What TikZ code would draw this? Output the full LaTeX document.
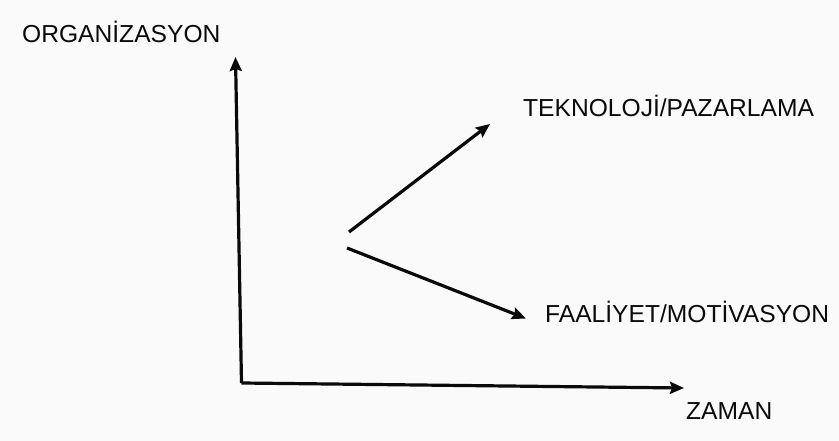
\documentclass[tikz,border=0pt]{standalone}
\usepackage{fontspec}
\setmainfont{Liberation Sans}
\usetikzlibrary{positioning,arrows.meta,calc}
\definecolor{bgpaper}{RGB}{250,250,250}
\definecolor{inkk}{RGB}{10,10,10}

\begin{document}
\begin{tikzpicture}[
  x=1pt, y=-1pt,
  font=\fontsize{24.6}{28}\selectfont,
  lbl/.style={anchor=base west, inner sep=0pt, text=inkk},
  axis/.style={-{Stealth[length=14pt, width=12pt, inset=2pt]}, line width=3.2pt,
               color=inkk, line join=miter},
  trend/.style={-{Stealth[length=14pt, width=12pt, inset=2pt]}, line width=3.2pt,
                color=inkk},
]

% ---------- canvas ----------
\fill[bgpaper] (0,0) rectangle (839,441);
\useasboundingbox (0,0) rectangle (839,441);

% ---------- axes ----------
\coordinate (origin) at (241.5,383);
\coordinate (ytip) at (235.5,57);
\coordinate (xtip) at (684,388);

\draw[axis] (origin) -- (ytip);
\draw[axis] (origin) -- (xtip);

% ---------- labels ----------
\node[lbl] (org) at (22,43) {ORGANİZASYON};
\node[lbl] (zaman) at (686,419) {ZAMAN};
\node[lbl] (tekno) at (523,117) {TEKNOLOJİ/PAZARLAMA};
\node[lbl] (faal) at (545,322) {FAALİYET/MOTİVASYON};

% ---------- two diverging trends ----------
\coordinate (up0) at (349,232);
\coordinate (up1) at (490,124);
\coordinate (dn0) at (347,248);
\coordinate (dn1) at (526,318.5);

\draw[trend] (up0) -- (up1);
\draw[trend] (dn0) -- (dn1);

\end{tikzpicture}
\end{document}
